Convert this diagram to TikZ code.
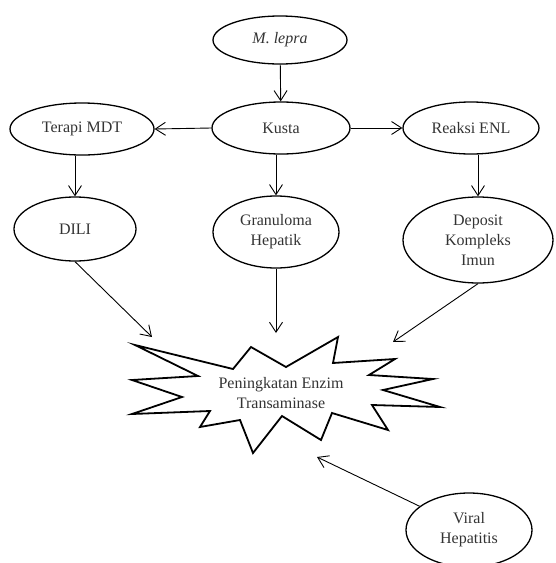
\documentclass[tikz,border=0pt]{standalone}
\usepackage{fontspec}
\setmainfont{Liberation Serif}
\usetikzlibrary{shapes.geometric,arrows.meta}
\begin{document}
\begin{tikzpicture}[x=1pt,y=-1pt,
  oval/.style={ellipse,draw,line width=1.3pt,inner sep=0pt,align=center,
    font=\fontsize{16}{20}\selectfont,text=black!80},
  arr/.style={line width=0.9pt,-{Straight Barb[length=10pt,width=13pt,line width=0.9pt]}},
  startxt/.style={align=center,font=\fontsize{16}{20}\selectfont,text=black!80}]
\useasboundingbox (0,0) rectangle (555,563);
\node[oval,minimum width=134pt,minimum height=48pt] (mlepra) at (280,40) {\itshape M. lepra};
\node[oval,minimum width=138pt,minimum height=52pt] (kusta) at (281,128) {Kusta};
\node[oval,minimum width=144pt,minimum height=52pt] (terapi) at (82,129) {Terapi MDT};
\node[oval,minimum width=136pt,minimum height=52pt] (reaksi) at (471,128) {Reaksi ENL};
\node[oval,minimum width=122pt,minimum height=64pt] (dili) at (75,229) {DILI};
\node[oval,minimum width=126pt,minimum height=72pt] (granuloma) at (276,232) {Granuloma\\Hepatik};
\node[oval,minimum width=150pt,minimum height=86pt] (deposit) at (478,240) {Deposit\\Kompleks\\Imun};
\node[oval,minimum width=126pt,minimum height=74pt] (viral) at (469,530) {Viral\\Hepatitis};
% star
\draw[line width=1.8pt,line join=miter]
  (135,345) -- (198,376) -- (132,380) -- (182,397) -- (132,414) -- (210,411)
  -- (200,427) -- (240,420) -- (253,453) -- (282,416) -- (321,440) -- (332,413)
  -- (388,430) -- (372,405) -- (440,407) -- (383,390) -- (433,379) -- (369,375)
  -- (395,359) -- (333,363) -- (338,337) -- (286,367) -- (251,347) -- (233,369)
  -- cycle;
\node[startxt] (peningkatan) at (281,393) {Peningkatan Enzim\\Transaminase};
% arrow end points
\coordinate (t1) at (152,337);
\coordinate (t2) at (276,333);
\coordinate (t3) at (393,342);
\coordinate (t4) at (317,457);
% connectors
\draw[arr] (mlepra) -- (kusta);
\draw[arr] (kusta.west) -- (terapi.east);
\draw[arr] (kusta.east) -- (reaksi.west);
\draw[arr] (dili.north |- terapi.south) -- (dili.north);
\draw[arr] (granuloma.north |- kusta.south) -- (granuloma.north);
\draw[arr] (deposit.north |- reaksi.south) -- (deposit.north);
\draw[arr] (dili.south) -- (t1);
\draw[arr] (granuloma.south) -- (t2);
\draw[arr] (deposit.south) -- (t3);
\draw[arr] (viral) -- (t4);
\end{tikzpicture}
\end{document}
